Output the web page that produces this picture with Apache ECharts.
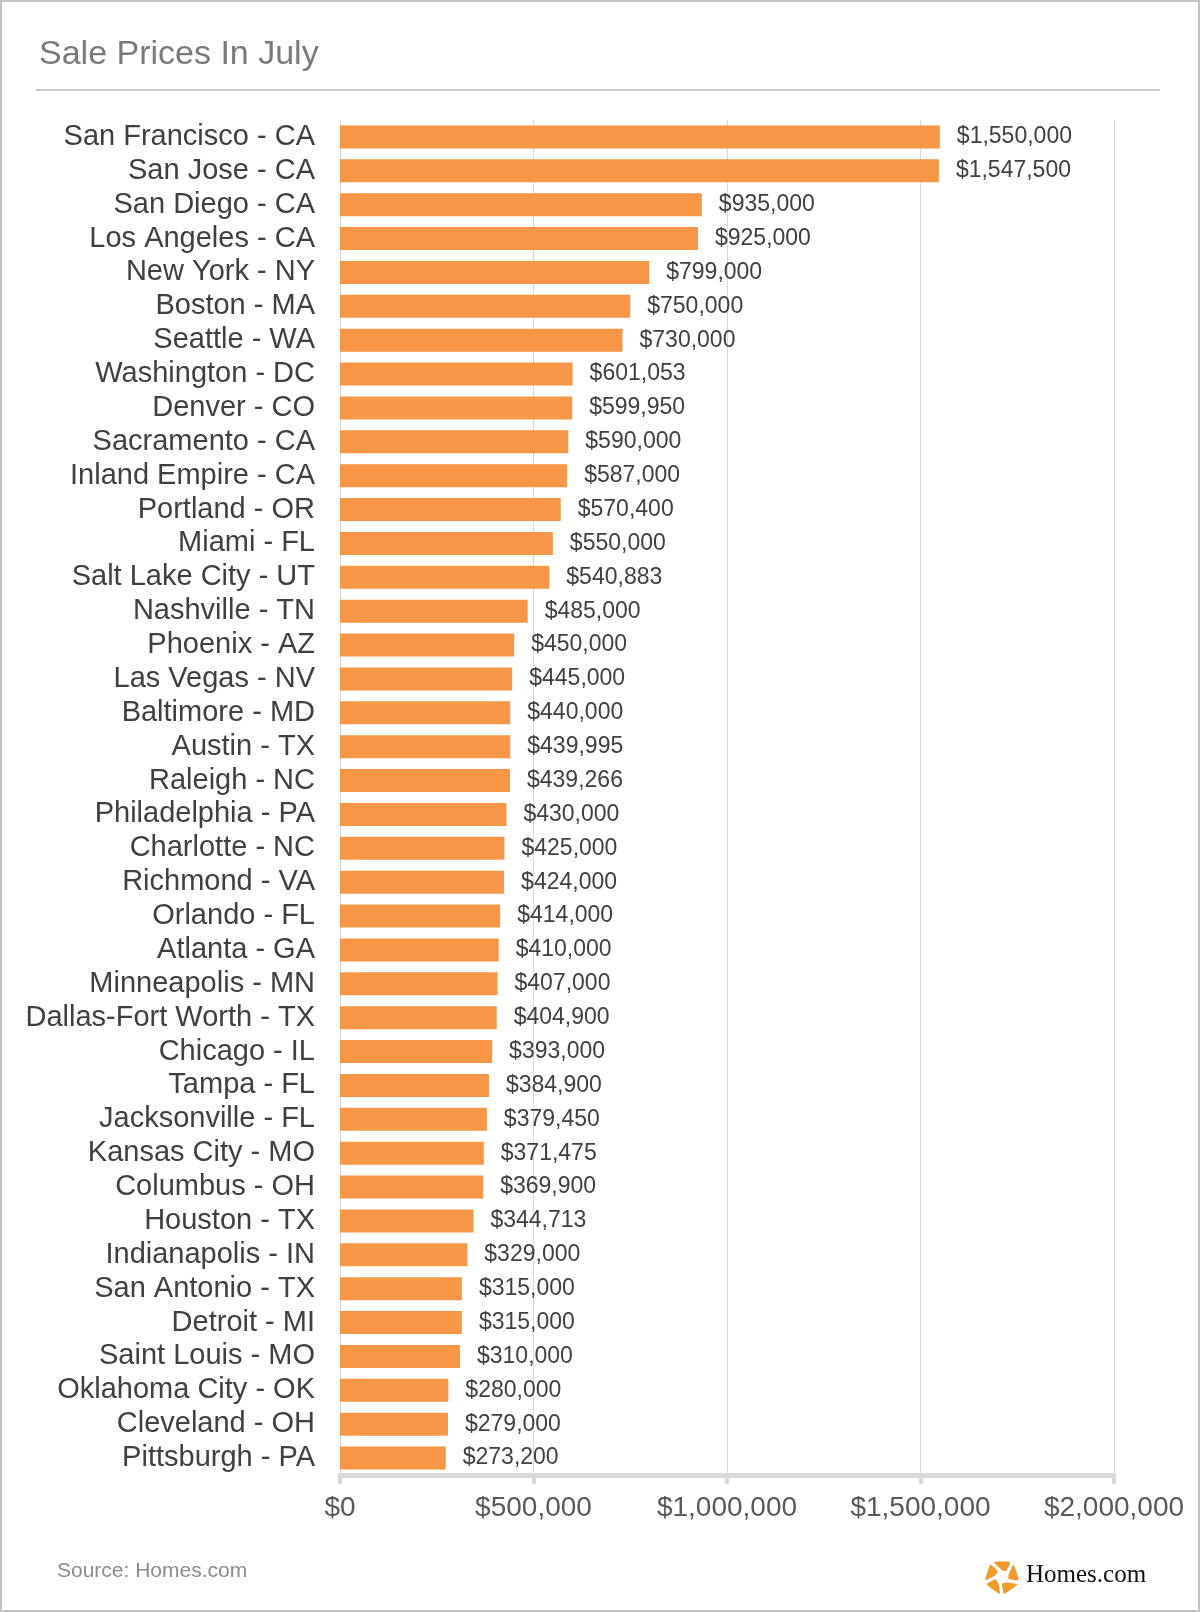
<!DOCTYPE html>
<html>
<head>
<meta charset="utf-8">
<script src="https://cdn.jsdelivr.net/npm/echarts@6/dist/echarts.min.js"></script>
<style>
html,body{margin:0;padding:0;background:#fff;}
#chart{width:1200px;height:1612px;}
</style>
</head>
<body>
<div id="chart"></div>
<script>
const chartTitle = 'Sale Prices In July';
const sourceText = 'Source: Homes.com';
const cities = [
  'San Francisco - CA','San Jose - CA','San Diego - CA','Los Angeles - CA','New York - NY',
  'Boston - MA','Seattle - WA','Washington - DC','Denver - CO','Sacramento - CA',
  'Inland Empire - CA','Portland - OR','Miami - FL','Salt Lake City - UT','Nashville - TN',
  'Phoenix - AZ','Las Vegas - NV','Baltimore - MD','Austin - TX','Raleigh - NC',
  'Philadelphia - PA','Charlotte - NC','Richmond - VA','Orlando - FL','Atlanta - GA',
  'Minneapolis - MN','Dallas-Fort Worth - TX','Chicago - IL','Tampa - FL','Jacksonville - FL',
  'Kansas City - MO','Columbus - OH','Houston - TX','Indianapolis - IN','San Antonio - TX',
  'Detroit - MI','Saint Louis - MO','Oklahoma City - OK','Cleveland - OH','Pittsburgh - PA'
];
const prices = [
  1550000,1547500,935000,925000,799000,
  750000,730000,601053,599950,590000,
  587000,570400,550000,540883,485000,
  450000,445000,440000,439995,439266,
  430000,425000,424000,414000,410000,
  407000,404900,393000,384900,379450,
  371475,369900,344713,329000,315000,
  315000,310000,280000,279000,273200
];
const axisMin = 0;
const axisMax = 2000000;
const axisStep = 500000;

function money(v){ return '$' + Number(v).toLocaleString('en-US'); }

// logo petals (decoration)
const logoCx = 1002, logoCy = 1577;
const petals = [];
for (let k = 0; k < 5; k++) {
  const a = (-90 + 72 * k) * Math.PI / 180;
  const pts = [];
  const R = 17, r = 7;
  const o1 = a - 0.5, o2 = a + 0.5, i1 = a - 0.05, i2 = a + 0.62;
  pts.push([logoCx + R * Math.cos(o1), logoCy + R * Math.sin(o1)]);
  pts.push([logoCx + R * Math.cos(o2), logoCy + R * Math.sin(o2)]);
  pts.push([logoCx + r * Math.cos(i2), logoCy + r * Math.sin(i2)]);
  pts.push([logoCx + r * Math.cos(i1), logoCy + r * Math.sin(i1)]);
  petals.push({type:'polygon', shape:{points:pts, smooth:0.15}, style:{fill:'#f39a2b'}, z:10});
}

const chart = echarts.init(document.getElementById('chart'), null, {renderer:'canvas'});
chart.setOption({
  backgroundColor:'#ffffff',
  animation:false,
  grid:{left:340, right:86, top:120, bottom:137, containLabel:false},
  xAxis:{
    type:'value', min:axisMin, max:axisMax, interval:axisStep,
    axisLine:{show:true, lineStyle:{color:'#d9d9d9', width:5}},
    axisTick:{show:true, length:9, lineStyle:{color:'#d9d9d9', width:4}},
    splitLine:{show:true, lineStyle:{color:'#d9d9d9', width:1}},
    axisLabel:{formatter:money, color:'#595959', fontSize:28, fontFamily:'Liberation Sans, Arial, sans-serif', margin:19}
  },
  yAxis:{
    type:'category', data:cities, inverse:true,
    axisLine:{show:false}, axisTick:{show:false},
    axisLabel:{interval:0, color:'#404040', fontSize:29, fontFamily:'Liberation Sans, Arial, sans-serif', margin:25}
  },
  series:[{
    type:'bar', data:prices, barWidth:23,
    itemStyle:{color:'#f79646'},
    label:{show:true, position:'right', distance:17, formatter:p=>money(p.value),
      color:'#404040', fontSize:23, fontFamily:'Liberation Sans, Arial, sans-serif'}
  }],
  graphic:[
    {type:'rect', shape:{x:1, y:1, width:1198, height:1610}, style:{fill:'none', stroke:'#c4c4c4', lineWidth:2}, silent:true},
    {type:'text', left:39, top:38, style:{text:chartTitle, fill:'#7a7a7a', fontSize:34, fontFamily:'Liberation Sans, Arial, sans-serif'}},
    {type:'line', shape:{x1:36, y1:90, x2:1160, y2:90}, style:{stroke:'#c8c8c8', lineWidth:2}},
    {type:'text', left:57, top:1561, style:{text:sourceText, fill:'#8c8c8c', fontSize:21, fontFamily:'Liberation Sans, Arial, sans-serif'}},
    ...petals,
    {type:'text', left:1026, top:1563, style:{text:'Homes.com', fill:'#111', fontSize:25, fontFamily:'Liberation Serif, Times New Roman, serif'}}
  ]
});
</script>
</body>
</html>
